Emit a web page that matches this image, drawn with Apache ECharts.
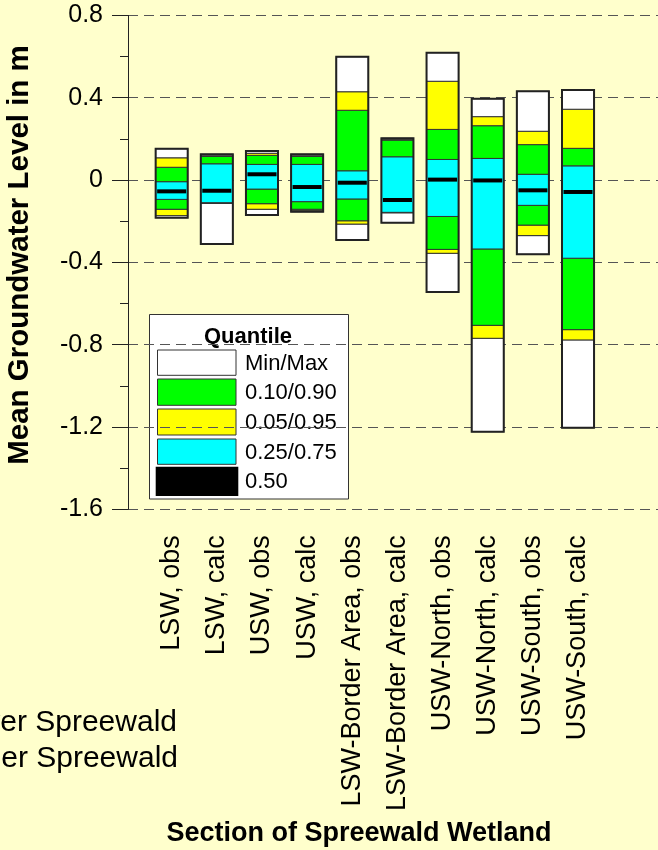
<!DOCTYPE html>
<html>
<head>
<meta charset="utf-8">
<script src="https://cdn.jsdelivr.net/npm/echarts@6/dist/echarts.min.js"></script>
<style>
html,body{margin:0;padding:0;background:#FFFFCC;}
#chart{width:658px;height:850px;}
</style>
</head>
<body>
<div id="chart"></div>
<script>
const categories = ['LSW, obs','LSW, calc','USW, obs','USW, calc','LSW-Border Area, obs','LSW-Border Area, calc','USW-North, obs','USW-North, calc','USW-South, obs','USW-South, calc'];
const qMin = [-0.183,-0.311,-0.170,-0.154,-0.292,-0.207,-0.544,-1.223,-0.361,-1.204];
const q05  = [-0.173,-0.114,-0.142,-0.147,-0.214,-0.159,-0.356,-0.769,-0.270,-0.777];
const q10  = [-0.142,-0.112,-0.115,-0.142,-0.198,-0.158,-0.337,-0.706,-0.219,-0.727];
const q25  = [-0.094,-0.110,-0.044,-0.105,-0.092,-0.157,-0.177,-0.335,-0.123,-0.380];
const q50  = [-0.055,-0.052, 0.028,-0.034,-0.013,-0.097, 0.002,-0.002,-0.050,-0.058];
const q75  = [-0.008, 0.079, 0.076, 0.076, 0.045, 0.113, 0.100, 0.105, 0.028, 0.069];
const q90  = [ 0.062, 0.115, 0.120, 0.115, 0.339, 0.194, 0.246, 0.264, 0.172, 0.154];
const q95  = [ 0.108, 0.118, 0.130, 0.118, 0.429, 0.198, 0.480, 0.308, 0.237, 0.344];
const qMax = [ 0.152, 0.125, 0.141, 0.125, 0.599, 0.203, 0.619, 0.395, 0.431, 0.437];
const legendLabels = ['Min/Max','0.10/0.90','0.05/0.95','0.25/0.75','0.50'];
const yTitle = 'Mean Groundwater Level in m';
const xTitle = 'Section of Spreewald Wetland';
const noteLines = ['LSW: Lower Spreewald','USW: Upper Spreewald'];

const FONT = '"Liberation Sans", Arial, Helvetica, sans-serif';
const C_WHITE = '#FFFFFF', C_GREEN = '#00FF00', C_YELLOW = '#FFFF00', C_CYAN = '#00FFFF', C_BLACK = '#000000';

const boxData = categories.map((c, i) => [i, qMin[i], q05[i], q10[i], q25[i], q50[i], q75[i], q90[i], q95[i], qMax[i]]);

function renderBox(params, api) {
  const x = api.value(0);
  const vals = [];
  for (let k = 1; k <= 9; k++) vals.push(api.value(k));
  const w = api.size([1, 0])[0] * 0.71;
  const cx = api.coord([x, 0])[0];
  const left = cx - w / 2;
  const py = vals.map(v => api.coord([x, v])[1]);
  const segs = [
    [0, 1, C_WHITE], [1, 2, C_YELLOW], [2, 3, C_GREEN], [3, 5, C_CYAN],
    [5, 6, C_GREEN], [6, 7, C_YELLOW], [7, 8, C_WHITE]
  ];
  const children = segs.map(s => ({
    type: 'rect',
    shape: { x: left, y: py[s[1]], width: w, height: py[s[0]] - py[s[1]] },
    style: { fill: s[2], stroke: '#333', lineWidth: 1 }
  }));
  children.push({
    type: 'rect',
    shape: { x: left + 1.5, y: py[4] - 2, width: w - 3, height: 4 },
    style: { fill: C_BLACK }
  });
  children.push({
    type: 'rect',
    shape: { x: left, y: py[8], width: w, height: py[0] - py[8] },
    style: { fill: 'none', stroke: '#222', lineWidth: 2 }
  });
  return { type: 'group', children: children };
}

const chart = echarts.init(document.getElementById('chart'), null, { renderer: 'canvas' });

const legendColors = [C_WHITE, C_GREEN, C_YELLOW, C_CYAN, C_BLACK];
const legendRows = [[350, 25.3], [379, 26.3], [409, 26], [439, 25.3], [466.7, 29.3]];
const legendChildren = [
  { type: 'rect', shape: { x: 149.5, y: 314.5, width: 199, height: 184.5 }, style: { fill: '#FFFFFF', stroke: '#333', lineWidth: 1 } },
  { type: 'text', x: 248, y: 337, style: { text: 'Quantile', font: 'bold 22px ' + FONT, fill: '#000', align: 'center', verticalAlign: 'middle' } }
];
legendLabels.forEach((lab, i) => {
  const r = legendRows[i];
  if (i < 4) {
    legendChildren.push({ type: 'rect', shape: { x: 157.5, y: r[0], width: 78.5, height: r[1] }, style: { fill: legendColors[i], stroke: '#333', lineWidth: 1 } });
  } else {
    legendChildren.push({ type: 'rect', shape: { x: 155.7, y: r[0], width: 82.6, height: r[1] }, style: { fill: C_BLACK } });
  }
  legendChildren.push({ type: 'text', x: 245, y: r[0] + r[1] / 2 + 1, style: { text: lab, font: '22px ' + FONT, fill: '#000', align: 'left', verticalAlign: 'middle' } });
});

const option = {
  backgroundColor: '#FFFFCC',
  animation: false,
  grid: [
    { left: 128, right: 0, top: 15.4, bottom: 340.7 },
    { left: 149.1, right: 57.4, top: 15.4, bottom: 340.7 }
  ],
  xAxis: [
    { gridIndex: 0, type: 'value', min: 0, max: 1, show: false },
    {
      gridIndex: 1, type: 'category', data: categories,
      axisLine: { show: false },
      axisTick: { show: true, alignWithLabel: true, length: 15, lineStyle: { color: '#222', width: 1 } },
      axisLabel: { interval: 0, rotate: 90, margin: 26, fontSize: 27, fontFamily: FONT, color: '#000' },
      splitLine: { show: false }
    }
  ],
  yAxis: [
    {
      gridIndex: 0, type: 'value', min: -1.6, max: 0.8, interval: 0.4,
      axisLine: { show: true, lineStyle: { color: '#222', width: 1 } },
      axisTick: { show: true, length: 16, lineStyle: { color: '#222', width: 1 } },
      minorTick: { show: true, splitNumber: 2, length: 8, lineStyle: { color: '#222', width: 1 } },
      axisLabel: { margin: 25, fontSize: 25, fontFamily: FONT, color: '#000' },
      splitLine: { show: true, lineStyle: { color: '#555', width: 1, type: [10, 6] } }
    },
    { gridIndex: 1, type: 'value', min: -1.6, max: 0.8, show: false }
  ],
  series: [
    {
      type: 'custom',
      xAxisIndex: 1, yAxisIndex: 1,
      renderItem: renderBox,
      encode: { x: 0, y: [1, 2, 3, 4, 5, 6, 7, 8, 9] },
      data: boxData,
      z: 10
    }
  ],
  graphic: [
    { type: 'text', x: 20, y: 255, rotation: Math.PI / 2, style: { text: yTitle, font: 'bold 29.5px ' + FONT, fill: '#000', align: 'center', verticalAlign: 'middle' } },
    { type: 'text', x: 359, y: 834, style: { text: xTitle, font: 'bold 27px ' + FONT, fill: '#000', align: 'center', verticalAlign: 'middle' } },
    { type: 'text', x: 177, y: 723, style: { text: noteLines[0], font: '30px ' + FONT, fill: '#000', align: 'right', verticalAlign: 'middle' } },
    { type: 'text', x: 178, y: 759, style: { text: noteLines[1], font: '30px ' + FONT, fill: '#000', align: 'right', verticalAlign: 'middle' } },
    { type: 'group', z: 100, children: legendChildren }
  ]
};
chart.setOption(option);
</script>
</body>
</html>
